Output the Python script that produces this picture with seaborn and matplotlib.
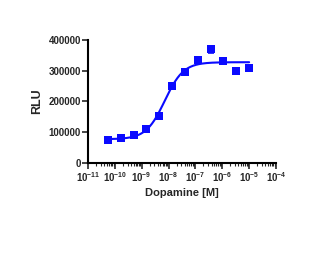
import numpy as np
import pandas as pd
import seaborn as sns
import matplotlib.pyplot as plt
from matplotlib.ticker import LogLocator, NullFormatter, FixedLocator

# %% data
conc = [5.6e-11, 1.7e-10, 5.1e-10, 1.5e-9, 4.6e-9, 1.4e-8,
        4.1e-8, 1.2e-7, 3.7e-7, 1.1e-6, 3.3e-6, 1.0e-5]
rlu = [74000, 79500, 90000, 109000, 152000, 250000,
       295000, 336000, 370000, 332000, 300000, 308000]
rlu_err = [3000, 3000, 3000, 4000, 4000, 4000,
           4000, 9000, 11000, 3000, 10000, 8000]

# 4PL fit parameters (estimated from the drawn curve)
fit_bottom = 77000
fit_top = 328000
fit_logec50 = -8.14
fit_hill = 1.25

df = pd.DataFrame({'conc': conc, 'rlu': rlu, 'err': rlu_err})

logx = np.linspace(np.log10(conc[0]), np.log10(conc[-1]), 200)
curve = pd.DataFrame({
    'conc': 10 ** logx,
    'rlu': fit_bottom + (fit_top - fit_bottom) / (1 + 10 ** ((fit_logec50 - logx) * fit_hill)),
})

# %% plot
sns.set_style('ticks')
plt.rcParams['font.family'] = ['Liberation Sans', 'DejaVu Sans']
plt.rcParams['font.weight'] = 'bold'
blue = '#0a0aff'

fig = plt.figure(figsize=(3.14, 2.71), dpi=100)
ax = fig.add_axes([0.28, 0.399, 0.599, 0.453])

sns.lineplot(data=curve, x='conc', y='rlu', color=blue, lw=1.5, ax=ax)
ax.errorbar(df['conc'], df['rlu'], yerr=df['err'], fmt='none',
            ecolor=blue, elinewidth=1.2, capsize=2, capthick=1.2)
sns.scatterplot(data=df, x='conc', y='rlu', marker='s', s=26, color=blue,
                edgecolor=blue, linewidth=0, ax=ax, zorder=3)

ax.set_xscale('log')
ax.set_xlim(1e-11, 1e-4)
ax.set_ylim(0, 400000)
ax.xaxis.set_major_locator(FixedLocator([10.0 ** k for k in range(-11, -3)]))
ax.xaxis.set_minor_locator(LogLocator(base=10, subs=np.arange(2, 10), numticks=20))
ax.xaxis.set_minor_formatter(NullFormatter())
ax.set_yticks([0, 100000, 200000, 300000, 400000])
ax.set_yticklabels(['0', '100000', '200000', '300000', '400000'])

for s in ['top', 'right']:
    ax.spines[s].set_visible(False)
for s in ['left', 'bottom']:
    ax.spines[s].set_linewidth(1.5)
    ax.spines[s].set_color('black')

ax.tick_params(axis='both', which='major', length=4, width=1.2, labelsize=7, pad=1)
ax.tick_params(axis='x', which='minor', length=2, width=0.8)
for lab in ax.get_xticklabels() + ax.get_yticklabels():
    lab.set_fontweight('bold')

ax.set_xlabel('Dopamine [M]', fontsize=8, fontweight='bold', labelpad=3)
ax.set_ylabel('RLU', fontsize=9, fontweight='bold', labelpad=4)

fig.savefig('out.png', dpi=100)
